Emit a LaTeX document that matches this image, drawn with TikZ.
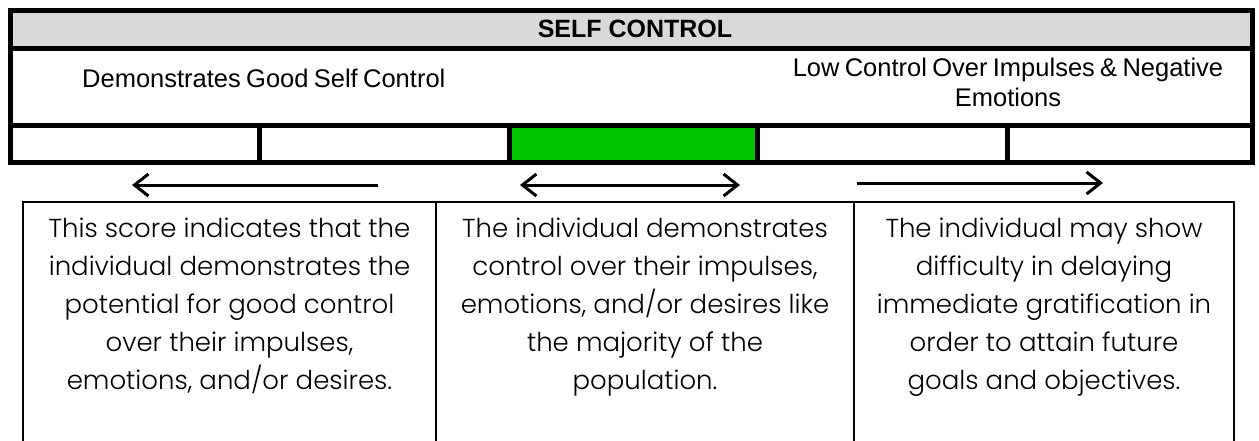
\documentclass[tikz,border=0pt]{standalone}
\usepackage{fontspec}
\setmainfont{Liberation Sans}
\newfontfamily\bodyfont{Poppins}[UprightFont=* Light]
\newfontfamily\headfont[WordSpace=0.75]{Liberation Sans}
\usetikzlibrary{arrows.meta}
\definecolor{hdrgray}{RGB}{217,217,217}
\definecolor{scoregreen}{RGB}{0,196,0}
\tikzset{
  thickline/.style={line width=5pt},
  thinline/.style={line width=2pt},
  scalearrow/.style={line width=3pt,-{Straight Barb[length=14pt,width=22pt,line width=3pt]}},
  scalearrowboth/.style={line width=3pt,{Straight Barb[length=14pt,width=22pt,line width=3pt]}-{Straight Barb[length=14pt,width=22pt,line width=3pt]}},
  desc/.style={align=center,inner sep=0pt,anchor=north,font={\bodyfont\fontsize{26}{38}\selectfont}},
}
\begin{document}
\begin{tikzpicture}[x=1pt,y=-1pt]
\useasboundingbox (0,0) rectangle (1259,440);
\begin{scope}
\clip (0,0) rectangle (1259,440);
% header table
\fill[hdrgray] (10.5,10.5) rectangle (1252.5,48.5);
\fill[scoregreen] (509.5,125.5) rectangle (757.5,162.5);
\draw[thickline] (10.5,10.5) rectangle (1252.5,162.5);
\draw[thickline] (10.5,48.5) -- (1252.5,48.5);
\draw[thickline] (10.5,125.5) -- (1252.5,125.5);
\foreach \x in {259.5,509.5,757.5,1007.5}
  \draw[thickline] (\x,125.5) -- (\x,162.5);
\node[anchor=base,inner sep=0pt,font={\bfseries\fontsize{25}{30}\selectfont}] (title) at (635,37) {SELF CONTROL};
\node[anchor=base west,inner sep=0pt,font={\headfont\fontsize{25.5}{30}\selectfont}] (good) at (82,87) {Demonstrates Good Self Control};
\node[anchor=north,align=center,inner sep=0pt,font={\headfont\fontsize{25.5}{30}\selectfont}] (low) at (1008,58) {Low Control Over Impulses \& Negative\\Emotions};
% arrows
\coordinate (a1s) at (378,185); \coordinate (a1e) at (132,185);
\coordinate (a2s) at (520,185); \coordinate (a2e) at (740,185);
\coordinate (a3s) at (857,183); \coordinate (a3e) at (1103,183);
\draw[scalearrow] (a1s) -- (a1e);
\draw[scalearrowboth] (a2s) -- (a2e);
\draw[scalearrow] (a3s) -- (a3e);
% description boxes
\draw[thinline] (23,460) -- (23,202) -- (1234,202) -- (1234,460);
\draw[thinline] (436,202) -- (436,460);
\draw[thinline] (854,202) -- (854,460);
\node[desc] (d1) at (229.5,218) {This score indicates that the\\individual demonstrates the\\potential for good control\\over their impulses,\\emotions, and/or desires.};
\node[desc] (d2) at (645,218) {The individual demonstrates\\control over their impulses,\\emotions, and/or desires like\\the majority of the\\population.};
\node[desc] (d3) at (1044,218) {The individual may show\\difficulty in delaying\\immediate gratification in\\order to attain future\\goals and objectives.};
\end{scope}
\end{tikzpicture}
\end{document}
